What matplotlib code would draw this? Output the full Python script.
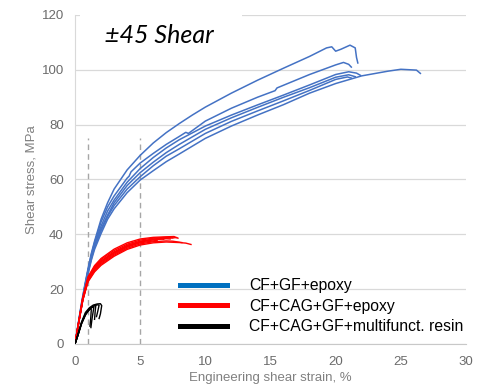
import matplotlib
matplotlib.use("Agg")
import matplotlib.pyplot as plt
from matplotlib.lines import Line2D
from matplotlib.patches import Rectangle

# ---------------- data ----------------
# CF+GF+epoxy (blue), six specimens
blue_A_x = [0, 0.25, 0.5, 0.75, 1, 1.25, 1.5, 2, 2.5, 3, 4, 5, 6, 7, 8, 9, 10, 12, 14, 16, 18, 19.3, 19.7, 20.0, 20.4, 21.1, 21.5, 21.6, 21.7]
blue_A_y = [0, 7.5, 15, 21.5, 27.5, 33, 37.5, 45.5, 51.5, 56.5, 63.5, 68.8, 73.3, 77.1, 80.4, 83.5, 86.4, 91.5, 96.2, 100.6, 104.9, 108.0, 108.4, 106.8, 107.5, 109, 108, 104.5, 102.5]
blue_B_x = [0, 0.25, 0.5, 0.75, 1, 1.25, 1.5, 2, 2.5, 3, 4, 4.15, 4.3, 5, 6, 7, 8, 8.5, 8.7, 10, 12, 14, 15.35, 15.5, 18, 20, 20.6, 21.0, 21.2]
blue_B_y = [0, 7.3, 14.5, 21, 27, 32.5, 37, 44.5, 50, 54, 60.5, 61.2, 62.8, 66, 69.5, 72.8, 75.7, 77.2, 76.8, 81.3, 86, 90, 92.4, 93.4, 98.3, 101.8, 102.7, 102, 101]
blue_C_x = [0, 0.25, 0.5, 0.75, 1, 1.25, 1.5, 2, 2.5, 3, 4, 5, 6, 7, 8, 10, 12, 14, 16, 18, 20, 21.0, 21.6, 21.9]
blue_C_y = [0, 7.2, 14.5, 20.8, 26.8, 32, 36.5, 43, 48.5, 52.5, 59, 64, 68, 71.5, 74.5, 79.5, 83.5, 87.2, 90.8, 94.5, 98.3, 99.3, 98.8, 98]
blue_D_x = [0, 0.25, 0.5, 0.75, 1, 1.25, 1.5, 2, 2.5, 3, 4, 5, 6, 7, 8, 10, 12, 14, 16, 18, 20, 21.0, 21.5]
blue_D_y = [0, 7, 14, 20.5, 26.5, 31.5, 36, 42, 47, 51.5, 57.8, 62.5, 66.3, 69.8, 72.8, 78.3, 82.5, 86.3, 90, 93.5, 97.3, 98.2, 97.5]
blue_E_x = [0, 0.25, 0.5, 0.75, 1, 1.25, 1.5, 2, 2.5, 3, 4, 5, 6, 7, 8, 10, 12, 14, 16, 18, 20, 22, 24, 25, 26.2, 26.5]
blue_E_y = [0, 6.8, 13.5, 19.8, 25.5, 30.5, 34.5, 40.3, 45.5, 49.3, 55.2, 59.8, 63.2, 66.5, 69.3, 75, 79.5, 83.5, 87.3, 91.5, 95, 97.8, 99.5, 100.2, 99.9, 98.7]
blue_F_x = [0, 0.25, 0.5, 0.75, 1, 1.25, 1.5, 2, 2.5, 3, 4, 5, 6, 7, 8, 10, 12, 14, 16, 18, 20, 20.9, 21.2]
blue_F_y = [0, 7, 14, 20.3, 26, 31, 35.3, 41.3, 46.5, 50.5, 56.5, 61, 65, 68.5, 71.2, 76.8, 81.2, 85, 88.7, 92.5, 96.5, 97.4, 97]

# CF+CAG+GF+epoxy (red), eight specimens
red_1_x = [0, 0.3, 0.6, 1, 1.5, 2, 3, 4, 5, 6, 7, 7.6, 7.9]
red_1_y = [0, 8.5, 17, 24.5, 28.6, 31.2, 34.6, 36.9, 38.3, 38.9, 39.1, 39.2, 38.6]
red_2_x = [0, 0.3, 0.6, 1, 1.5, 2, 3, 4, 5, 6, 7, 7.5]
red_2_y = [0, 8.4, 16.8, 24.2, 28.2, 30.8, 34.1, 36.4, 37.9, 38.6, 38.9, 38.7]
red_3_x = [0, 0.3, 0.6, 1, 1.5, 2, 3, 4, 5, 6, 6.5, 6.8]
red_3_y = [0, 8.4, 16.6, 23.8, 27.8, 30.3, 33.6, 36, 37.5, 38.3, 38.5, 38.2]
red_4_x = [0, 0.3, 0.6, 1, 1.5, 2, 3, 4, 5, 6, 7, 7.3]
red_4_y = [0, 8.3, 16.4, 23.5, 27.4, 29.9, 33.2, 35.6, 37.2, 38.0, 38.4, 38.3]
red_5_x = [0, 0.3, 0.6, 1, 1.5, 2, 3, 4, 5, 6, 6.3]
red_5_y = [0, 8.3, 16.2, 23.2, 27, 29.5, 32.8, 35.3, 36.9, 37.6, 37.8]
red_6_x = [0, 0.3, 0.6, 1, 1.5, 2, 3, 4, 5, 6, 7, 7.5, 8.2]
red_6_y = [0, 8.2, 16, 22.9, 26.6, 29.1, 32.4, 34.9, 36.5, 37.3, 37.6, 37.5, 37.0]
red_7_x = [0, 0.3, 0.6, 1, 1.5, 2, 3, 4, 5, 6, 7, 8, 8.5, 8.9]
red_7_y = [0, 8.2, 16, 22.7, 26.3, 28.7, 32, 34.5, 36.1, 36.9, 37.2, 37, 36.8, 36.3]
red_8_x = [0, 0.3, 0.6, 1, 1.5, 2, 3, 4, 5, 6, 7, 7.8]
red_8_y = [0, 8.3, 16.5, 23.6, 27.6, 30.1, 33.4, 35.8, 37.3, 38.1, 38.6, 38.8]

# CF+CAG+GF+multifunct. resin (black), five specimens
blk_1_x = [0, 0.2, 0.5, 0.8, 1.1, 1.4, 1.7, 1.95, 2.05, 1.95, 1.85]
blk_1_y = [0, 3, 8, 11.5, 13.2, 14.2, 14.6, 14.7, 14, 11, 9.3]
blk_2_x = [0, 0.2, 0.5, 0.8, 1.1, 1.4, 1.7, 1.85, 1.75, 1.65]
blk_2_y = [0, 3, 7.7, 11, 12.8, 13.8, 14.3, 14.2, 12, 10]
blk_3_x = [0, 0.2, 0.5, 0.8, 1.1, 1.3, 1.45, 1.4, 1.3, 1.22]
blk_3_y = [0, 2.8, 7.5, 10.8, 12.5, 13.3, 13.5, 12, 9, 6.0]
blk_4_x = [0, 0.2, 0.5, 0.8, 1.0, 1.2, 1.25, 1.2, 1.15]
blk_4_y = [0, 2.8, 7.3, 10.5, 12, 13, 12.5, 9, 6.5]
blk_5_x = [0, 0.2, 0.5, 0.8, 1.1, 1.4, 1.6, 1.55, 1.5]
blk_5_y = [0, 2.9, 7.6, 10.9, 12.7, 13.8, 14.2, 12, 9]

dashed_x = [1, 5]
dashed_top = 75

legend_labels = ["CF+GF+epoxy", "CF+CAG+GF+epoxy", "CF+CAG+GF+multifunct. resin"]
x_ticks = [0, 5, 10, 15, 20, 25, 30]
y_ticks = [0, 20, 40, 60, 80, 100, 120]
title_text = "±45 Shear"

# ---------------- plot ----------------
fig = plt.figure(figsize=(4.85, 3.86), dpi=100)
ax = fig.add_axes([75/485, 1-344/386, (466-75)/485, (344-15)/386])

blue_c = "#4472C4"
for xs, ys in [(blue_A_x, blue_A_y), (blue_B_x, blue_B_y), (blue_C_x, blue_C_y),
               (blue_D_x, blue_D_y), (blue_E_x, blue_E_y), (blue_F_x, blue_F_y)]:
    ax.plot(xs, ys, color=blue_c, lw=1.1, zorder=3)
for xs, ys in [(red_1_x, red_1_y), (red_2_x, red_2_y), (red_3_x, red_3_y), (red_4_x, red_4_y),
               (red_5_x, red_5_y), (red_6_x, red_6_y), (red_7_x, red_7_y), (red_8_x, red_8_y)]:
    ax.plot(xs, ys, color="#FF0000", lw=1.0, zorder=4)
for xs, ys in [(blk_1_x, blk_1_y), (blk_2_x, blk_2_y), (blk_3_x, blk_3_y),
               (blk_4_x, blk_4_y), (blk_5_x, blk_5_y)]:
    ax.plot(xs, ys, color="black", lw=1.0, zorder=5)

ax.vlines(dashed_x, 0, dashed_top, colors="#a6a6a6", linestyles=(0, (4, 3)), lw=1.0, zorder=2)

ax.set_xlim(0, 30)
ax.set_ylim(0, 120)
ax.set_xticks(x_ticks)
ax.set_yticks(y_ticks)
ax.yaxis.grid(True, color="#d9d9d9", lw=0.9)
ax.set_axisbelow(True)
for s in ["top", "right"]:
    ax.spines[s].set_visible(False)
ax.spines["left"].set_color("#d9d9d9")
ax.spines["bottom"].set_color("#c8c8c8")
ax.tick_params(axis="x", length=0, labelsize=9.5, labelcolor="#6b6b6b", pad=8.5)
ax.tick_params(axis="y", length=0, labelsize=9.5, labelcolor="#6b6b6b", pad=8)
for lab in ax.get_xticklabels() + ax.get_yticklabels():
    lab.set_family("Liberation Sans")

ax.set_xlabel("Engineering shear strain, %", fontsize=9.5, color="#808080",
              family="Liberation Sans", labelpad=3.2)
ax.set_ylabel("Shear stress, MPa", fontsize=9.5, color="#808080",
              family="Liberation Sans", labelpad=3)

# white box behind the title (covers the top gridline)
ax.add_patch(Rectangle((0.4, 108), 12.4, 16, facecolor="white", edgecolor="none",
                       zorder=1, clip_on=False))
ax.text(6.5, 109.8, title_text, ha="center", va="baseline",
        fontsize=18, style="italic", family="Lato", color="black", zorder=6)

handles = [Line2D([], [], color="#0070C0", lw=3.6),
           Line2D([], [], color="#FF0000", lw=3.6),
           Line2D([], [], color="black", lw=3.6)]
leg = ax.legend(handles, legend_labels, loc="upper left", frameon=False,
                bbox_to_anchor=(180/485, 1-278/386), bbox_transform=fig.transFigure,
                borderpad=0, borderaxespad=0, handlelength=3.0, handletextpad=1.4,
                labelspacing=0.36, prop=dict(family="Liberation Sans", size=11.3))

fig.savefig("out.png", dpi=100)
